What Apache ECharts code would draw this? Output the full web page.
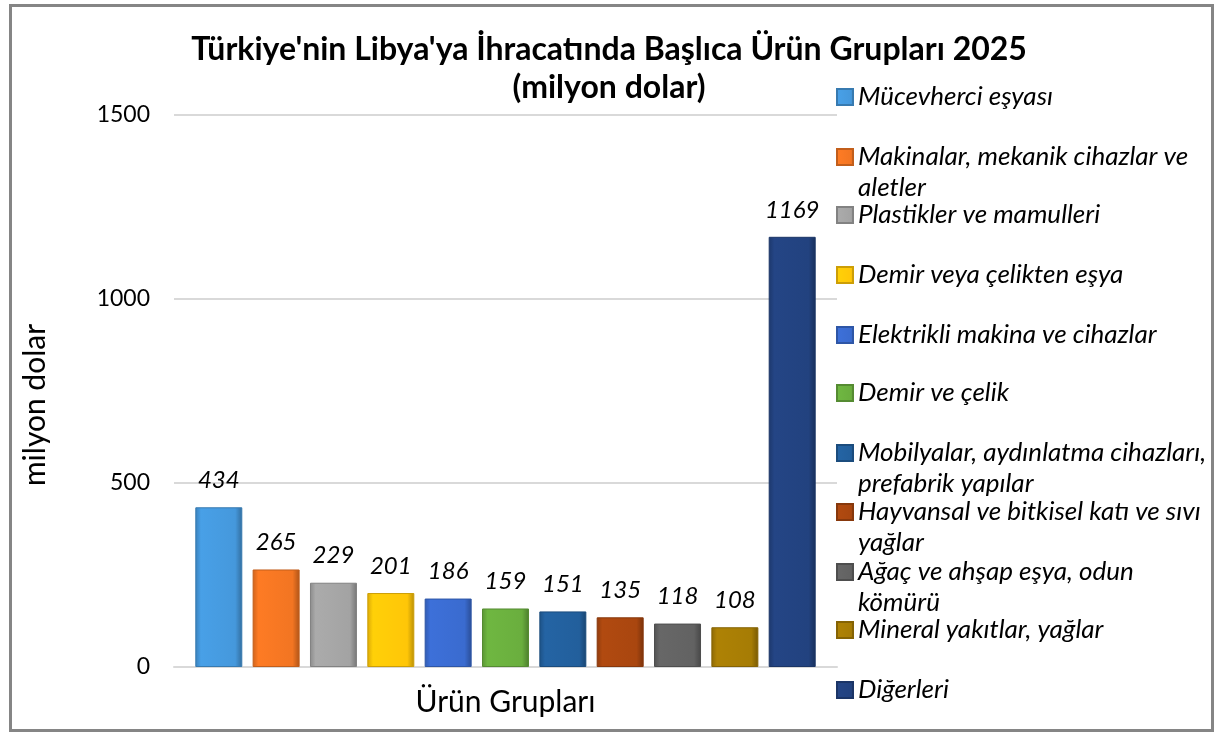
<!DOCTYPE html>
<html>
<head>
<meta charset="utf-8">
<script src="https://cdn.jsdelivr.net/npm/echarts@6/dist/echarts.min.js"></script>
<style>
  html, body { margin: 0; padding: 0; background: #fff; }
  #main { position: absolute; left: 9px; top: 4px; width: 1199px; height: 722px; border: 3px solid #858585; }
</style>
</head>
<body>
<div id="main"></div>
<script>
// ürün grupları (legend sırası)
const seriesNames = [
  "Mücevherci eşyası",
  "Makinalar, mekanik cihazlar ve\naletler",
  "Plastikler ve mamulleri",
  "Demir veya çelikten eşya",
  "Elektrikli makina ve cihazlar",
  "Demir ve çelik",
  "Mobilyalar, aydınlatma cihazları,\nprefabrik yapılar",
  "Hayvansal ve bitkisel katı ve sıvı\nyağlar",
  "Ağaç ve ahşap eşya, odun\nkömürü",
  "Mineral yakıtlar, yağlar",
  "Diğerleri"
];
// 2025 değerleri, milyon dolar
const values = [434, 265, 229, 201, 186, 159, 151, 135, 118, 108, 1169];
const category = ["Ürün Grupları"];
const yTicks = [0, 500, 1000, 1500];

const colors = ["#4598dc", "#f27522", "#a3a3a3", "#ffc608", "#3a6bcf", "#6aae3e",
  "#225f9c", "#a9460f", "#626262", "#a67c05", "#22427f"];

const FONT = "Lato";

function shade(hex, k) {
  let n = parseInt(hex.slice(1), 16);
  let r = Math.min(255, Math.round(((n >> 16) & 255) * k));
  let g = Math.min(255, Math.round(((n >> 8) & 255) * k));
  let b = Math.min(255, Math.round((n & 255) * k));
  return "rgb(" + r + "," + g + "," + b + ")";
}

let myChart = echarts.init(document.getElementById("main"));

// legend: her öğe ayrı, sabit aralıklarla (Excel düzeni gibi)
// canvas, sayfaya göre 12px sağda / 7px aşağıda
const legendCenters = [90, 150, 208, 268, 328, 386, 446, 505, 565, 623, 683];
const LH = 31;
let legends = seriesNames.map(function (name, i) {
  let lines = name.indexOf("\n") >= 0 ? 3 : 1;
  return {
    data: [name],
    left: 824,
    top: legendCenters[i] - (lines * LH) / 2,
    padding: 0,
    itemWidth: 16,
    itemHeight: 16,
    itemGap: 0,
    icon: "rect",
    selectedMode: false,
    formatter: function (n) {
      return n.indexOf("\n") >= 0 ? "\n" + n : n;
    },
    textStyle: {
      fontFamily: FONT,
      fontStyle: "italic",
      fontSize: 26,
      lineHeight: LH,
      color: "#000"
    }
  };
});

let series = seriesNames.map(function (name, i) {
  let c = colors[i];
  return {
    name: name,
    type: "bar",
    barWidth: 47,
    barGap: "22%",
    data: [values[i]],
    itemStyle: {
      color: new echarts.graphic.LinearGradient(0, 0, 1, 0, [
        { offset: 0, color: shade(c, 0.85) },
        { offset: 0.12, color: shade(c, 1.05) },
        { offset: 0.85, color: c },
        { offset: 1, color: shade(c, 0.72) }
      ]),
      borderColor: shade(c, 0.8),
      borderWidth: 1
    },
    label: {
      show: true,
      position: "top",
      distance: 15,
      fontFamily: FONT,
      fontStyle: "italic",
      fontSize: 24,
      color: "#000"
    }
  };
});

let option = {
  animation: false,
  title: {
    text: "Türkiye'nin Libya'ya İhracatında Başlıca Ürün Grupları 2025\n(milyon dolar)",
    left: 597,
    top: 24,
    padding: 0,
    textAlign: "center",
    textStyle: {
      fontFamily: FONT,
      fontWeight: "bold",
      fontSize: 32,
      lineHeight: 38,
      color: "#000"
    }
  },
  legend: legends,
  grid: { left: 160, right: 374, top: 108, bottom: 62 },
  xAxis: {
    type: "category",
    data: category,
    axisTick: { show: false },
    axisLine: { lineStyle: { color: "#d9d9d9", width: 2 } },
    axisLabel: { margin: 20, fontFamily: FONT, fontSize: 30, color: "#000" }
  },
  yAxis: {
    type: "value",
    min: yTicks[0],
    max: yTicks[yTicks.length - 1],
    interval: 500,
    name: "milyon dolar",
    nameLocation: "middle",
    nameGap: 124,
    nameTextStyle: { fontFamily: FONT, fontSize: 30, color: "#000", padding: [0, 28, 0, 0] },
    axisLabel: {
      margin: 24, fontFamily: FONT, fontSize: 23, color: "#000",
      formatter: function (v) { return String(v); }
    },
    splitLine: { lineStyle: { color: "#d9d9d9", width: 2 } }
  },
  series: series
};

option && myChart.setOption(option);
</script>
</body>
</html>
